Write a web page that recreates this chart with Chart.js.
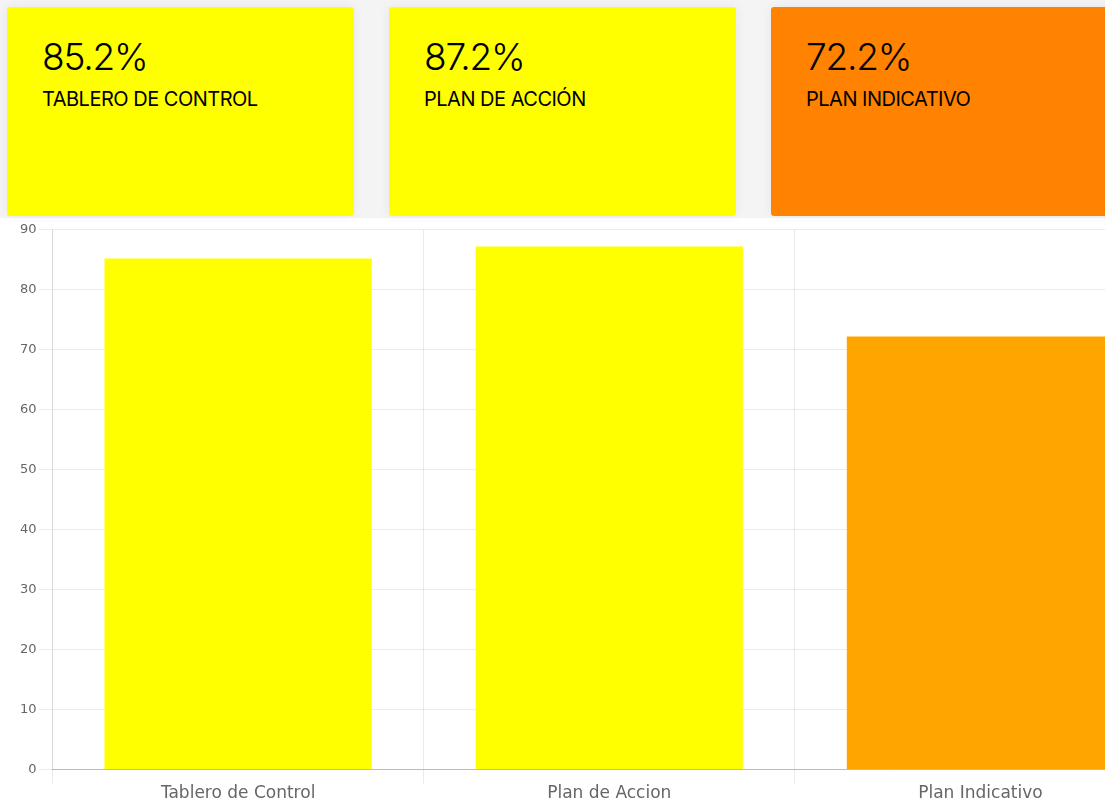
<!DOCTYPE html>
<html>
<head>
    <meta charset="UTF-8">
    <title>Indicadores</title>
    <style>
        body { margin: 0; background: #fff; overflow: hidden; font-family: "Inter", sans-serif; }
        #page { width: 1170px; }
        #cards { background: #f4f4f4; height: 218px; position: relative; }
        .card { position: absolute; top: 7px; width: 347px; height: 209px; border-radius: 3px; box-shadow: 0 0 12px rgba(0,0,0,0.06); }
        .card .num { position: absolute; left: 35px; top: 27px; font-size: 37px; font-weight: 300; letter-spacing: -1.2px; color: #000; }
        .card .lbl { position: absolute; left: 35px; top: 80px; font-size: 20px; font-weight: 400; letter-spacing: -0.5px; color: #000; }
        #chartBox { position: relative; width: 1166px; height: 584px; margin-top: 2px; }
    </style>
    <script src="https://cdn.jsdelivr.net/npm/chart.js"></script>
</head>
<body>
<div id="page">
    <div id="cards"></div>
    <div id="chartBox"><canvas id="barChart"></canvas></div>
</div>
<script>
    const categories = ["Tablero de Control", "Plan de Accion", "Plan Indicativo"];
    const values = [85.2, 87.2, 72.2];
    const barColors = ["#ffff00", "#ffff00", "#ffa500"];
    const cardTitles = ["TABLERO DE CONTROL", "PLAN DE ACCIÓN", "PLAN INDICATIVO"];
    const cardColors = ["#ffff00", "#ffff00", "#ff8300"];

    // cards
    const cardsEl = document.getElementById("cards");
    cardTitles.forEach((t, i) => {
        const c = document.createElement("div");
        c.className = "card";
        c.style.left = (7 + i * 382) + "px";
        c.style.background = cardColors[i];
        c.innerHTML = '<div class="num">' + values[i].toFixed(1) + '%</div><div class="lbl">' + t + '</div>';
        cardsEl.appendChild(c);
    });

    const ctx = document.getElementById("barChart").getContext("2d");
    const barChart = new Chart(ctx, {
        type: "bar",
        data: {
            labels: categories,
            datasets: [{ data: values, backgroundColor: barColors, borderWidth: 0 }],
        },
        options: {
            responsive: true,
            maintainAspectRatio: false,
            animation: false,
            layout: { padding: { left: 18, top: 6, right: 0, bottom: 0 } },
            plugins: { legend: { display: false }, tooltip: { enabled: false } },
            scales: {
                x: {
                    grid: { color: "rgba(0,0,0,0.08)", tickLength: 14 },
                    border: { color: "#bbb" },
                    ticks: { color: "#666", font: { family: "DejaVu Sans", size: 17 }, padding: 0 },
                },
                y: {
                    min: 0, max: 90,
                    grid: { color: "rgba(0,0,0,0.08)", tickLength: 14 },
                    border: { color: "rgba(0,0,0,0.08)" },
                    ticks: { stepSize: 10, color: "#666", font: { family: "DejaVu Sans", size: 13 }, padding: 2 },
                },
            },
        },
    });
</script>
</body>
</html>
